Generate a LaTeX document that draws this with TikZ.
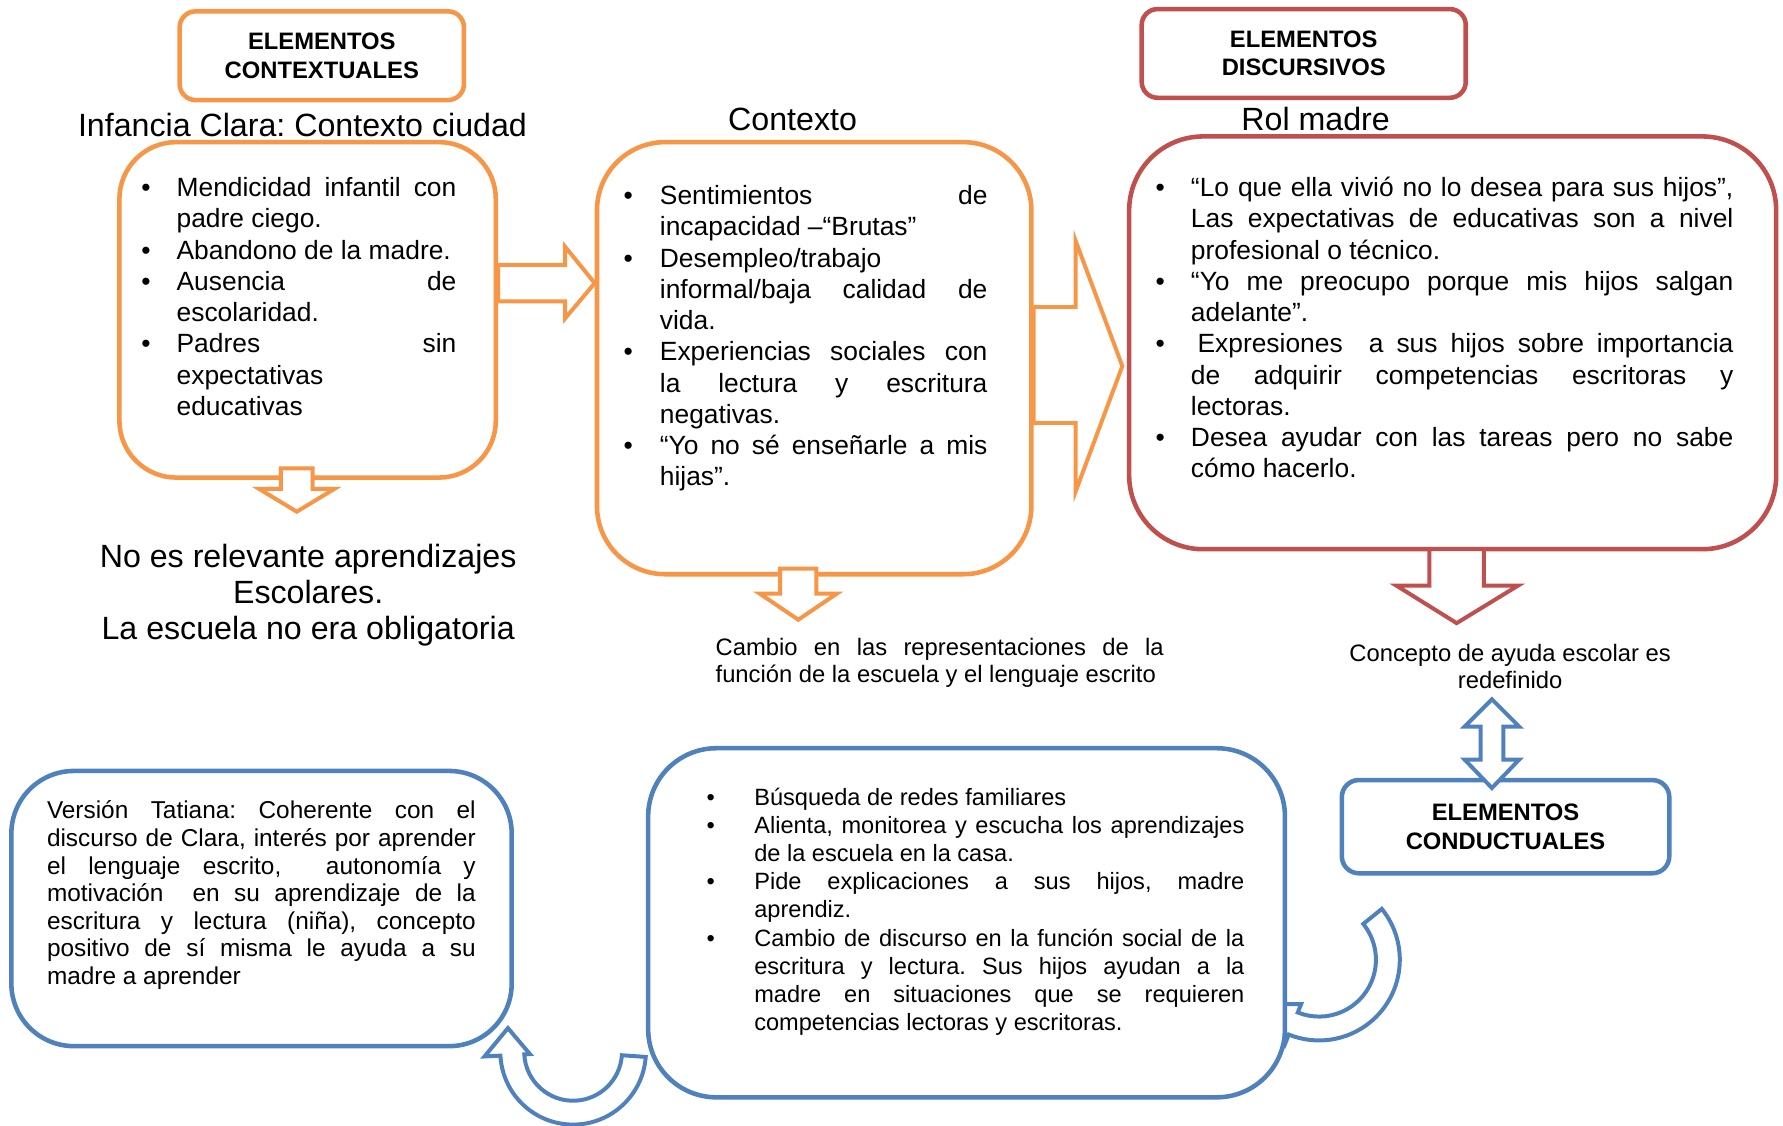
\documentclass[tikz,border=0pt]{standalone}
\usepackage{fontspec}
\setmainfont{Liberation Sans}
\usepackage{enumitem}
\usetikzlibrary{calc}
\definecolor{ctxorange}{HTML}{F79646}
\definecolor{disred}{HTML}{C0504D}
\definecolor{conblue}{HTML}{4F81BD}
\setlist[itemize]{nosep,label=\textbullet,labelsep=0pt,align=left}
\hyphenpenalty=10000 \exhyphenpenalty=10000 \tolerance=9999
\frenchspacing
\newcommand{\tfnt}{\fontsize{13.2}{15.65}\selectfont}
\newcommand{\sfnt}{\fontsize{11.9}{13.7}\selectfont}
\newcommand{\lfnt}{\fontsize{16.1}{18.2}\selectfont}
\newcommand{\hfnt}{\fontsize{11.9}{14.2}\selectfont\bfseries}
\tikzset{box/.style={draw=#1,line width=0.8mm,fill=white,inner sep=0pt},
  hd/.style={box=#1,rounded corners=2.8mm,align=center,font=\hfnt},
  txt/.style={anchor=north west,inner sep=0pt,align=justify},
  barr/.style={draw=#1,line width=0.7mm,fill=white,line join=miter}}
\begin{document}
\begin{tikzpicture}[x=0.2mm,y=0.2mm]
\useasboundingbox (0,0) rectangle (1568,990);
% headers and titles
\node[hd=ctxorange,minimum width=50mm,minimum height=15.6mm] (ctxhd) at (283,941) {ELEMENTOS\\CONTEXTUALES};
\node[hd=disred,minimum width=57mm,minimum height=15.6mm] (dishd) at (1146.5,943) {ELEMENTOS\\DISCURSIVOS};
\node[font=\lfnt,anchor=base,inner sep=0pt] (infttl) at (266,870) {Infancia Clara: Contexto ciudad};
\node[font=\lfnt,anchor=base,inner sep=0pt] (ctxttl) at (697,875.5) {Contexto};
\node[font=\lfnt,anchor=base,inner sep=0pt] (rolttl) at (1157,875.5) {Rol madre};
% upper boxes
\node[box=ctxorange,rounded corners=10mm,minimum width=66.2mm,minimum height=59mm] (infancia) at (270.5,717.5) {};
\node[box=ctxorange,rounded corners=12mm,minimum width=76.4mm,minimum height=76mm] (contexto) at (716,675) {};
\node[box=disred,rounded corners=13mm,minimum width=113.8mm,minimum height=72.6mm] (rolm) at (1277.5,688.5) {};
\node[txt,text width=55.4mm,font=\tfnt] (infT) at (124,845) {\begin{itemize}[leftmargin=6.2mm,labelwidth=6.2mm]
\item Mendicidad infantil con\linebreak padre ciego.
\item Abandono de la madre.
\item Ausencia de\linebreak escolaridad.
\item Padres sin\linebreak expectativas\linebreak educativas
\end{itemize}};
\node[txt,text width=64mm,font=\tfnt] (ctxT) at (548,838) {\begin{itemize}[leftmargin=6.4mm,labelwidth=6.4mm]
\item Sentimientos de\linebreak incapacidad –“Brutas”
\item Desempleo/trabajo\linebreak informal/baja calidad de\linebreak vida.
\item Experiencias sociales con\linebreak la lectura y escritura\linebreak negativas.
\item “Yo no sé enseñarle a mis\linebreak hijas”.
\end{itemize}};
\node[txt,text width=101.6mm,font=\tfnt] (rolT) at (1016,845) {\begin{itemize}[leftmargin=6.2mm,labelwidth=6.2mm]
\item “Lo que ella vivió no lo desea para sus hijos”,\linebreak Las expectativas de educativas son a nivel\linebreak profesional o técnico.
\item “Yo me preocupo porque mis hijos salgan\linebreak adelante”.
\item \hspace{0.25em}Expresiones\ \ a sus hijos sobre importancia\linebreak de adquirir competencias escritoras y\linebreak lectoras.
\item Desea ayudar con las tareas pero no sabe\linebreak cómo hacerlo.
\end{itemize}};
% block arrows
\draw[barr=ctxorange] (infancia.east|-0,757) -- (497,757) -- (497,773) -- (contexto.west|-0,741) -- (497,710) -- (497,725) -- (infancia.east|-0,725) -- cycle;
\draw[barr=ctxorange] (247,578) -- (247,560) -- (228,560) -- (261,540) -- (294,560) -- (275,560) -- (275,578) -- cycle;
\draw[barr=ctxorange] (686,490) -- (686,468) -- (668,468) -- (702,445) -- (736,468) -- (718,468) -- (718,490) -- cycle;
\draw[barr=ctxorange] (contexto.east|-0,720) -- (946,720) -- (946,778) -- (987,668) -- (946,558) -- (946,618) -- (contexto.east|-0,618) -- cycle;
\draw[barr=disred] (1257,507) -- (1257,475) -- (1228,475) -- (1281,442) -- (1335,475) -- (1305,475) -- (1305,507) -- cycle;
% results
\node[anchor=north,align=center,font=\lfnt,inner sep=0pt] (norel) at (271,512) {No es relevante aprendizajes\\Escolares.\\La escuela no era obligatoria};
\node[txt,text width=78.8mm,font=\sfnt] (cambio) at (629,429) {Cambio en las representaciones de la\linebreak función de la escuela y el lenguaje escrito};
\node[anchor=north,align=center,font=\sfnt,inner sep=0pt] (concepto) at (1328,424) {Concepto de ayuda escolar es\\redefinido};
% curved arrows
\coordinate (c1) at (504,65);
\coordinate (c2) at (1160,146);
\draw[barr=conblue] ($(c1)+(-4:64)$) arc[start angle=-4,end angle=-177,radius=64] -- ($(c1)+(-177:78)$) -- ($(c1)+(-200:61)$) -- ($(c1)+(-177:38)$) -- ($(c1)+(-177:43)$) arc[start angle=-177,end angle=-4,radius=43] -- cycle;
\draw[barr=conblue] ($(c2)+(39:71)$) arc[start angle=39,end angle=-112,radius=71] -- ($(c2)+(-112:80)$) -- ($(c2)+(-140:61)$) -- ($(c2)+(-112:42)$) -- ($(c2)+(-112:50)$) arc[start angle=-112,end angle=39,radius=50] -- cycle;
% lower boxes
\node[box=conblue,rounded corners=11mm,minimum width=88mm,minimum height=48.4mm] (tatiana) at (230,191) {};
\node[box=conblue,rounded corners=12mm,minimum width=112mm,minimum height=61.4mm] (conducta) at (850,178.5) {};
\node[hd=conblue,rounded corners=3mm,minimum width=57.6mm,minimum height=16.4mm] (conhd) at (1324,263) {ELEMENTOS\\CONDUCTUALES};
\draw[barr=conblue] (1312,375) -- (1336,351) -- (1322,351) -- (1322,322) -- (1336,322) -- (1312,297) -- (1288,322) -- (1302,322) -- (1302,351) -- (1288,351) -- cycle;
\node[txt,text width=75.4mm,font=\fontsize{12.2}{13.8}\selectfont] (tatT) at (41,286) {Versión Tatiana: Coherente con el\linebreak discurso de Clara, interés por aprender\linebreak el lenguaje escrito,\ \ autonomía y\linebreak motivación\ \ en su aprendizaje de la\linebreak escritura y lectura (niña), concepto\linebreak positivo de sí misma le ayuda a su\linebreak madre a aprender};
\node[txt,text width=94.6mm,font=\fontsize{11.8}{14.1}\selectfont] (condT) at (621,307) {\begin{itemize}[leftmargin=8.4mm,labelwidth=8.4mm]
\item Búsqueda de redes familiares
\item Alienta, monitorea y escucha los aprendizajes\linebreak de la escuela en la casa.
\item Pide explicaciones a sus hijos, madre\linebreak aprendiz.
\item Cambio de discurso en la función social de la\linebreak escritura y lectura. Sus hijos ayudan a la\linebreak madre en situaciones que se requieren\linebreak competencias lectoras y escritoras.
\end{itemize}};
\end{tikzpicture}
\end{document}
